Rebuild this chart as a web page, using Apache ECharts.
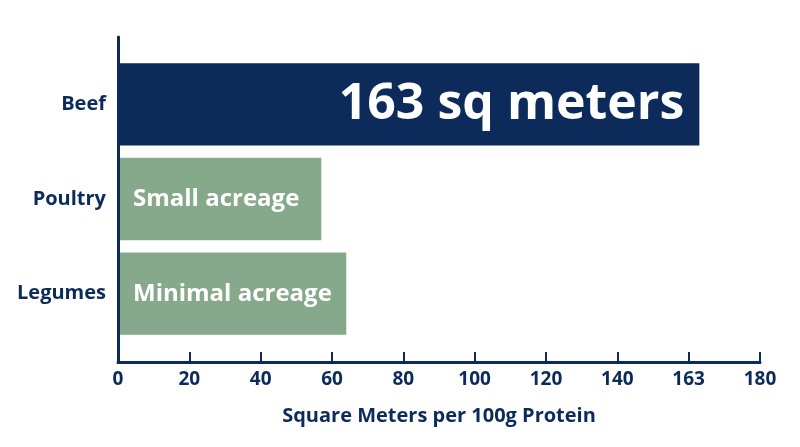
<!DOCTYPE html>
<html>
<head>
<meta charset="utf-8">
<script src="https://cdn.jsdelivr.net/npm/echarts@6/dist/echarts.min.js"></script>
<style>
  html, body { margin: 0; padding: 0; background: #fff; }
  #main { width: 800px; height: 447px; }
</style>
</head>
<body>
<div id="main"></div>
<script>
// data
const categories = ["Beef", "Poultry", "Legumes"]
const landUse = [163, 57, 64]
const barLabels = ["163 sq meters", "Small acreage", "Minimal acreage"]
const xTicks = [0, 20, 40, 60, 80, 100, 120, 140, 160, 180]
const xTickLabels = ["0", "20", "40", "60", "80", "100", "120", "140", "163", "180"]

const navy = "#0c2a5a"
const green = "#87a98b"
const font = "Open Sans"

const chart = echarts.init(document.getElementById("main"))

const seriesData = landUse.map((v, i) => {
  const isBeef = i === 0
  return {
    value: v,
    itemStyle: { color: isBeef ? navy : green },
    label: {
      show: true,
      formatter: barLabels[i],
      position: isBeef ? "insideRight" : "insideLeft",
      distance: 15,
      color: "#fff",
      fontFamily: font,
      fontWeight: "bold",
      fontSize: isBeef ? 50 : 24
    }
  }
})

const option = {
  animation: false,
  grid: [
    // frame grid: carries the visible axis lines, ticks and labels
    { left: 118, right: 40, top: 37, bottom: 85 },
    // bar grid
    { left: 118, right: 40, top: 57, bottom: 106 }
  ],
  xAxis: [
    {
      gridIndex: 0,
      type: "value",
      min: 0,
      max: 180,
      interval: 20,
      name: "Square Meters per 100g Protein",
      nameLocation: "middle",
      nameGap: 44,
      nameTextStyle: { color: navy, fontFamily: font, fontWeight: "bold", fontSize: 20 },
      axisLine: { show: true, lineStyle: { color: navy, width: 3 } },
      axisTick: { show: true, inside: true, length: 10, lineStyle: { color: navy, width: 2 } },
      axisLabel: {
        color: navy,
        fontFamily: font,
        fontWeight: "bold",
        fontSize: 19,
        margin: 8,
        formatter: v => {
          const k = xTicks.indexOf(v)
          return k >= 0 ? xTickLabels[k] : ""
        }
      },
      splitLine: { show: false },
      z: 5
    },
    {
      gridIndex: 1,
      type: "value",
      min: 0,
      max: 180,
      show: false
    }
  ],
  yAxis: [
    {
      gridIndex: 0,
      type: "value",
      axisLine: { show: true, lineStyle: { color: navy, width: 3 } },
      axisTick: { show: false },
      axisLabel: { show: false },
      splitLine: { show: false },
      z: 5
    },
    {
      gridIndex: 1,
      type: "category",
      inverse: true,
      data: categories,
      axisLine: { show: false },
      axisTick: { show: false },
      axisLabel: {
        color: navy,
        fontFamily: font,
        fontWeight: "bold",
        fontSize: 20,
        margin: 12
      }
    }
  ],
  series: [
    {
      type: "bar",
      xAxisIndex: 1,
      yAxisIndex: 1,
      barCategoryGap: "13%",
      data: seriesData
    }
  ]
}

chart.setOption(option)
</script>
</body>
</html>
